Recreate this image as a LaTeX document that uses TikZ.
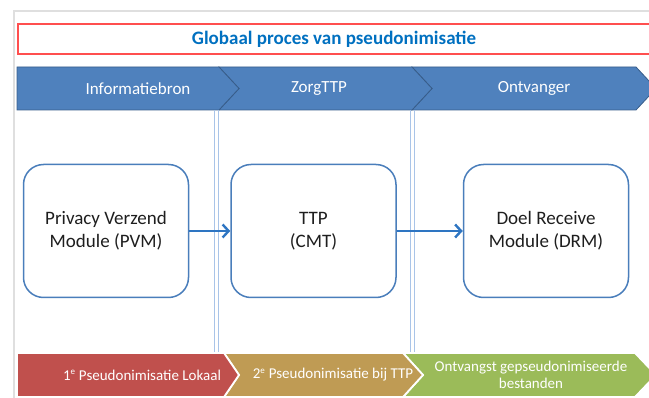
\documentclass[tikz,border=0pt]{standalone}
\usepackage{fontspec}
\setmainfont{Carlito}
\usetikzlibrary{arrows.meta}

\definecolor{hdrblue}{HTML}{4F81BD}
\definecolor{hdrline}{HTML}{385D8A}
\definecolor{boxblue}{HTML}{4A7EBB}
\definecolor{flowblue}{HTML}{2E75C2}
\definecolor{sepblue}{HTML}{A9C4E8}
\definecolor{titleblue}{HTML}{0070C0}
\definecolor{titlered}{HTML}{FF4F4F}
\definecolor{chevred}{HTML}{C0504D}
\definecolor{chevtan}{HTML}{BF9B54}
\definecolor{chevgreen}{HTML}{9BBB59}
\definecolor{boxtext}{HTML}{1E1E1E}

\begin{document}
\begin{tikzpicture}[x=1pt,y=-1pt,
	box/.style={draw=boxblue,line width=1.5pt,fill=white,rounded corners=20pt,minimum width=165pt,minimum height=133pt,align=center,text=boxtext,font=\fontsize{19}{23}\selectfont},
	flow/.style={draw=flowblue,line width=2.4pt,-{Straight Barb[length=6pt,width=13pt]}},
	hdr/.style={draw=hdrline,line width=0.8pt,fill=hdrblue},
	hdrtext/.style={text=white,font=\fontsize{17}{20}\selectfont},
	foot/.style={draw=white,line width=1.8pt},
	foottext/.style={text=white,align=center,font=\fontsize{15}{17}\selectfont},
	sep/.style={draw=sepblue,line width=0.9pt}]
	\useasboundingbox (0,0) rectangle (649,398);
	
	%frame
	\draw[gray!25,line width=1.6pt] (14,398) -- (14,11) -- (649,11);
	
	%title
	\draw[titlered,line width=1.3pt] (18,24) rectangle (660,54);
	\node[text=titleblue,font=\bfseries\fontsize{19}{23}\selectfont] (title) at (334,39) {Globaal proces van pseudonimisatie};
	
	%header chevrons
	\draw[hdr] (412,67) -- (636,67) -- (656,88.5) -- (636,110) -- (412,110) -- (432,88.5) -- cycle;
	\draw[hdr] (219,67) -- (412,67) -- (432,88.5) -- (412,110) -- (219,110) -- (239,88.5) -- cycle;
	\draw[hdr] (17,67) -- (219,67) -- (239,88.5) -- (219,110) -- (17,110) -- cycle;
	\node[hdrtext] (bron) at (138,88.5) {Informatiebron};
	\node[hdrtext] (zorg) at (319,88.5) {ZorgTTP};
	\node[hdrtext] (ontvanger) at (534,88.5) {Ontvanger};
	
	%double separator lines
	\foreach \sx in {214.5,218.5,410.5,414.5}
		\draw[sep] (\sx,110) -- (\sx,353);
	
	%modules
	\node[box] (pvm) at (106,231) {Privacy Verzend\\Module (PVM)};
	\node[box] (ttp) at (313.5,231) {TTP\\(CMT)};
	\node[box] (drm) at (546,231) {Doel Receive\\Module (DRM)};
	
	\draw[flow] (pvm) -- (ttp); %PVM to TTP
	\draw[flow] (ttp) -- (drm); %TTP to DRM
	
	%bottom chevrons
	\draw[foot,fill=chevgreen] (403,353) -- (635,353) -- (656,375) -- (635,397) -- (403,397) -- (423,375) -- cycle;
	\draw[foot,fill=chevtan] (224,353) -- (403,353) -- (423,375) -- (403,397) -- (224,397) -- (239,375) -- cycle;
	\draw[foot,fill=chevred] (17,353) -- (224,353) -- (239,375) -- (224,397) -- (17,397) -- cycle;
	\node[foottext] (lokaal) at (142,375) {1\textsuperscript{\fontsize{9}{9}\selectfont e} Pseudonimisatie Lokaal};
	\node[foottext] (bijttp) at (333,375) {2\textsuperscript{\fontsize{9}{9}\selectfont e} Pseudonimisatie bij TTP};
	\node[foottext] (ontvangst) at (531,375) {Ontvangst gepseudonimiseerde\\bestanden};
\end{tikzpicture}
\end{document}
